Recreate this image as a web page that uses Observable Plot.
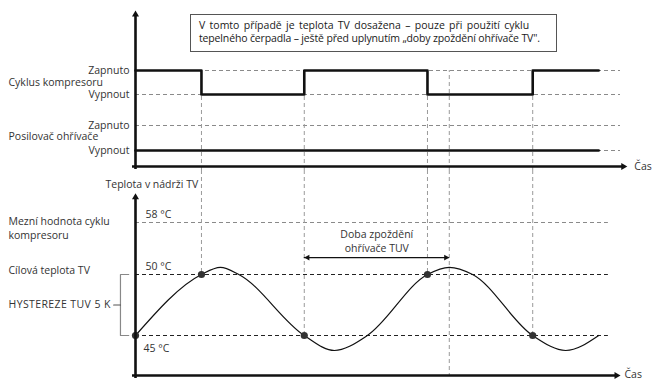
<!DOCTYPE html>
<html>
<head>
<meta charset="utf-8">
<script src="https://cdn.jsdelivr.net/npm/d3@7"></script>
<script src="https://cdn.jsdelivr.net/npm/@observablehq/plot@0.6"></script>
<style>
  body { margin: 0; background: #fff; }
  #chart { position: relative; width: 655px; height: 380px; font-family: "Open Sans", Lato, sans-serif; color: #333; }
  #chart svg { display: block; }
  .note {
    position: absolute; left: 190px; top: 14px; width: 367px; height: 38px;
    box-sizing: border-box; border: 1px solid #555; background: #fff;
    padding: 4px 0 0 8px; font-size: 10.5px; line-height: 13px; color: #1a1a1a;
    white-space: nowrap;
  }
  .note div:first-child { word-spacing: 1.6px; }
  .note div:last-child { letter-spacing: -0.15px; }
</style>
</head>
<body>
<div id="chart"></div>
<script>
// ---- data ----
// time (arbitrary units) at which signals switch
const tEnd = 100;
const compressorTimes = [0, 13.6, 34.8, 60.2, 81.9, 95.5];
const compressorStates = ["on", "off", "on", "off", "on", "on"];
const boosterTimes = [0, 95.5];
const boosterStates = ["off", "off"];

// guide lines dropped from the compressor trace
const markerTimes = [13.6, 34.8, 60.2, 64.7, 81.9];
const markerTemps = [50, 45, 50, null, 45];

// water tank temperature (°C)
const tempTimes  = [0, 13.6, 17.5, 21.3, 34.8, 41, 47.8, 60.2, 64.7, 69.5, 81.9, 88.7, 95.5];
const tempValues = [45, 50, 51.1, 50, 45, 43.5, 45, 50, 51.1, 50, 45, 43.5, 45];

// temperatures where the compressor switches
const dotTimes = [0, 13.6, 34.8, 60.2, 81.9];
const dotTemps = [45, 50, 45, 50, 45];

// threshold levels
const limitTemp = 58, targetTemp = 50, lowerTemp = 45;
const thresholdTemps = [58, 50, 45];
const thresholdLabels = ["58 °C", "50 °C", "45 °C"];

// heater delay window
const delayStart = 34.8, delayEnd = 64.7;

// text
const stateLabels = ["Zapnuto", "Vypnout", "Zapnuto", "Vypnout"];
const signalNames = ["Cyklus kompresoru", "Posilovač ohřívače"];
const timeLabel = "Čas";
const tempAxisLabel = "Teplota v nádrži TV";
const hysteresisLabel = "HYSTEREZE TUV 5 K";
const noteLines = [
  "V tomto případě je teplota TV dosažena – pouze při použití cyklu",
  "tepelného čerpadla – ještě před uplynutím „doby zpoždění ohřívače TV\"."
];

// ---- layout ----
const font = '"Open Sans", Lato, sans-serif';
const fontSize = "10.5px";
const ink = "#111", textInk = "#333";
const dash = "4,3";
const xScale = {domain: [0, tEnd], range: [135, 620]};

// signal levels on the upper panel (schematic, unevenly spaced)
const level = {compressor: {on: 4, off: 3}, booster: {on: 2, off: 1}};
const compressor = compressorTimes.map((t, i) => ({t, y: level.compressor[compressorStates[i]]}));
const booster = boosterTimes.map((t, i) => ({t, y: level.booster[boosterStates[i]]}));
const stateLevels = [4, 3, 2, 1];
const levelSpacing = d3.scaleLinear().domain([-0.25, 0, 1, 2, 3, 4, 5]).range([0, 4, 20, 45, 76, 100, 160]);

// schematic temperature spacing (thresholds are not drawn to scale)
const tempSpacing = d3.scaleLinear().domain([41, 45, 50, 58, 66]).range([5, 45, 106, 158, 210]);

const temps = tempTimes.map((t, i) => ({t, v: tempValues[i]}));
const dots = dotTimes.map((t, i) => ({t, v: dotTemps[i]}));

const arrowR = 2.6, arrowTip = 4;      // filled axis arrowheads
const smallR = 2.2, smallTip = 3.4;    // delay-window arrowheads

const chart = document.getElementById("chart");

// ---- upper panel: compressor and booster heater states ----
const topYTop = 5, topAxisEnd = 101.4;
const upper = Plot.plot({
  width: 655, height: 170,
  marginLeft: 8, marginRight: 0, marginTop: 0, marginBottom: 0,
  x: xScale,
  y: {transform: levelSpacing, domain: [0, 170], range: [170, 0]},
  axis: null,
  style: {fontFamily: font, fontSize, color: textInk, overflow: "visible"},
  marks: [
    Plot.ruleY(stateLevels, {x1: 0, x2: tEnd, stroke: "#8a8a8a", strokeWidth: 1, strokeDasharray: dash}),
    Plot.ruleX(markerTimes, {y1: -0.25, y2: level.compressor.on, stroke: "#9a9a9a", strokeWidth: 1, strokeDasharray: dash}),
    Plot.line(compressor, {x: "t", y: "y", curve: "step-after", stroke: ink, strokeWidth: 2.6}),
    Plot.line(booster, {x: "t", y: "y", stroke: ink, strokeWidth: 2.6}),
    // axes
    Plot.ruleX([0], {y1: 0, y2: topYTop, stroke: ink, strokeWidth: 2.6, dy: 3}),
    Plot.ruleY([0], {x1: 0, x2: topAxisEnd, stroke: ink, strokeWidth: 2.6, dx: -3}),
    Plot.dot([topYTop], {x: () => 0, y: d => d, symbol: "triangle", r: arrowR, fill: ink, dy: arrowTip}),
    Plot.dot([topAxisEnd], {x: d => d, y: () => 0, symbol: "triangle", r: arrowR, rotate: 90, fill: ink, dx: -arrowTip}),
    // labels
    Plot.text(stateLabels, {x: () => 0, y: (d, i) => stateLevels[i], text: d => d, dx: -6, textAnchor: "end", fill: textInk}),
    Plot.text(signalNames, {y: (d, i) => [3.5, 1.55][i], text: d => d, frameAnchor: "left", textAnchor: "start", fill: textInk}),
    Plot.text([timeLabel], {x: () => topAxisEnd, y: () => 0, text: d => d, dx: 7, textAnchor: "start", fill: textInk})
  ]
});
chart.appendChild(upper);

// ---- lower panel: tank temperature ----
const yBottom = 41, yAxisTop = 62.5, yTop = 66, lowEnd = 97.5;
const bracketX = -3.1, bracketTick = -1.4, bracketStub = -4.5;
const delayLevel = 52.6;
const tickLabelOffsets = [[10, -8], [10, -8], [8, 13]];
const lower = Plot.plot({
  width: 655, height: 210,
  marginLeft: 8, marginRight: 0, marginTop: 0, marginBottom: 0,
  x: xScale,
  y: {transform: tempSpacing, domain: [0, 210], range: [210, 0]},
  axis: null,
  style: {fontFamily: font, fontSize, color: textInk, overflow: "visible"},
  marks: [
    Plot.ruleY([limitTemp], {x1: 0, x2: lowEnd, stroke: "#8a8a8a", strokeWidth: 1, strokeDasharray: dash}),
    Plot.ruleY([targetTemp, lowerTemp], {x1: 0, x2: lowEnd, stroke: "#222", strokeWidth: 1.2, strokeDasharray: dash}),
    Plot.ruleX(markerTimes, {y1: () => yTop, y2: (d, i) => markerTemps[i] ?? yBottom, stroke: "#9a9a9a", strokeWidth: 1, strokeDasharray: dash}),
    // hysteresis bracket
    Plot.line([[bracketTick, targetTemp], [bracketX, targetTemp], [bracketX, lowerTemp], [bracketTick, lowerTemp]],
      {stroke: "#888", strokeWidth: 1.2}),
    Plot.line([[bracketX, (targetTemp + lowerTemp) / 2], [bracketStub, (targetTemp + lowerTemp) / 2]],
      {stroke: "#555", strokeWidth: 1.2}),
    // temperature curve
    Plot.line(temps, {x: "t", y: "v", curve: "monotone-x", stroke: ink, strokeWidth: 1.2}),
    Plot.dot(dots, {x: "t", y: "v", r: 3.6, fill: "#333"}),
    // heater delay window
    Plot.ruleY([delayLevel], {x1: delayStart, x2: delayEnd, stroke: ink, strokeWidth: 1.3}),
    Plot.dot([delayStart], {x: d => d, y: () => delayLevel, symbol: "triangle", r: smallR, rotate: -90, fill: ink, dx: smallTip}),
    Plot.dot([delayEnd], {x: d => d, y: () => delayLevel, symbol: "triangle", r: smallR, rotate: 90, fill: ink, dx: -smallTip}),
    Plot.text(["Doba zpoždění\nohřívače TUV"], {x: () => (delayStart + delayEnd) / 2, y: () => delayLevel, text: d => d,
      lineAnchor: "bottom", lineHeight: 1.25, dy: -6, fill: textInk}),
    // axes
    Plot.ruleX([0], {y1: yBottom, y2: yAxisTop, stroke: ink, strokeWidth: 2.6, dy: 3}),
    Plot.ruleY([yBottom], {x1: 0, x2: tEnd, stroke: ink, strokeWidth: 2.6, dx: -3}),
    Plot.dot([yAxisTop], {x: () => 0, y: d => d, symbol: "triangle", r: arrowR, fill: ink, dy: arrowTip}),
    Plot.dot([tEnd], {x: d => d, y: () => yBottom, symbol: "triangle", r: arrowR, rotate: 90, fill: ink, dx: -arrowTip}),
    // labels
    ...thresholdLabels.map((label, i) =>
      Plot.text([label], {x: () => 0, y: () => thresholdTemps[i], text: d => d,
        dx: tickLabelOffsets[i][0], dy: tickLabelOffsets[i][1], textAnchor: "start", fill: textInk})),
    Plot.text([tempAxisLabel], {x: () => 0, y: () => yAxisTop, text: d => d, dx: -30, dy: -9, textAnchor: "start", fill: textInk}),
    Plot.text(["Mezní hodnota cyklu\nkompresoru"], {y: () => limitTemp, text: d => d, frameAnchor: "left", textAnchor: "start",
      lineAnchor: "top", lineHeight: 1.33, dy: -7, fill: textInk}),
    Plot.text(["Cílová teplota TV"], {y: () => targetTemp, text: d => d, frameAnchor: "left", textAnchor: "start", dy: -4, fill: textInk}),
    Plot.text([hysteresisLabel], {y: () => (targetTemp + lowerTemp) / 2, text: d => d, frameAnchor: "left", textAnchor: "start", fill: textInk}),
    Plot.text([timeLabel], {x: () => tEnd, y: () => yBottom, text: d => d, dx: 4, dy: -1, textAnchor: "start", fill: textInk})
  ]
});
chart.appendChild(lower);

// the capitals of the hysteresis label are set a little wider
d3.select(lower).selectAll("text").filter(function () { return this.textContent === hysteresisLabel; })
  .attr("letter-spacing", "0.4px");

// explanatory note
const note = document.createElement("div");
note.className = "note";
note.innerHTML = noteLines.map(s => `<div>${s.replace(/</g, "&lt;")}</div>`).join("");
chart.appendChild(note);
</script>
</body>
</html>
